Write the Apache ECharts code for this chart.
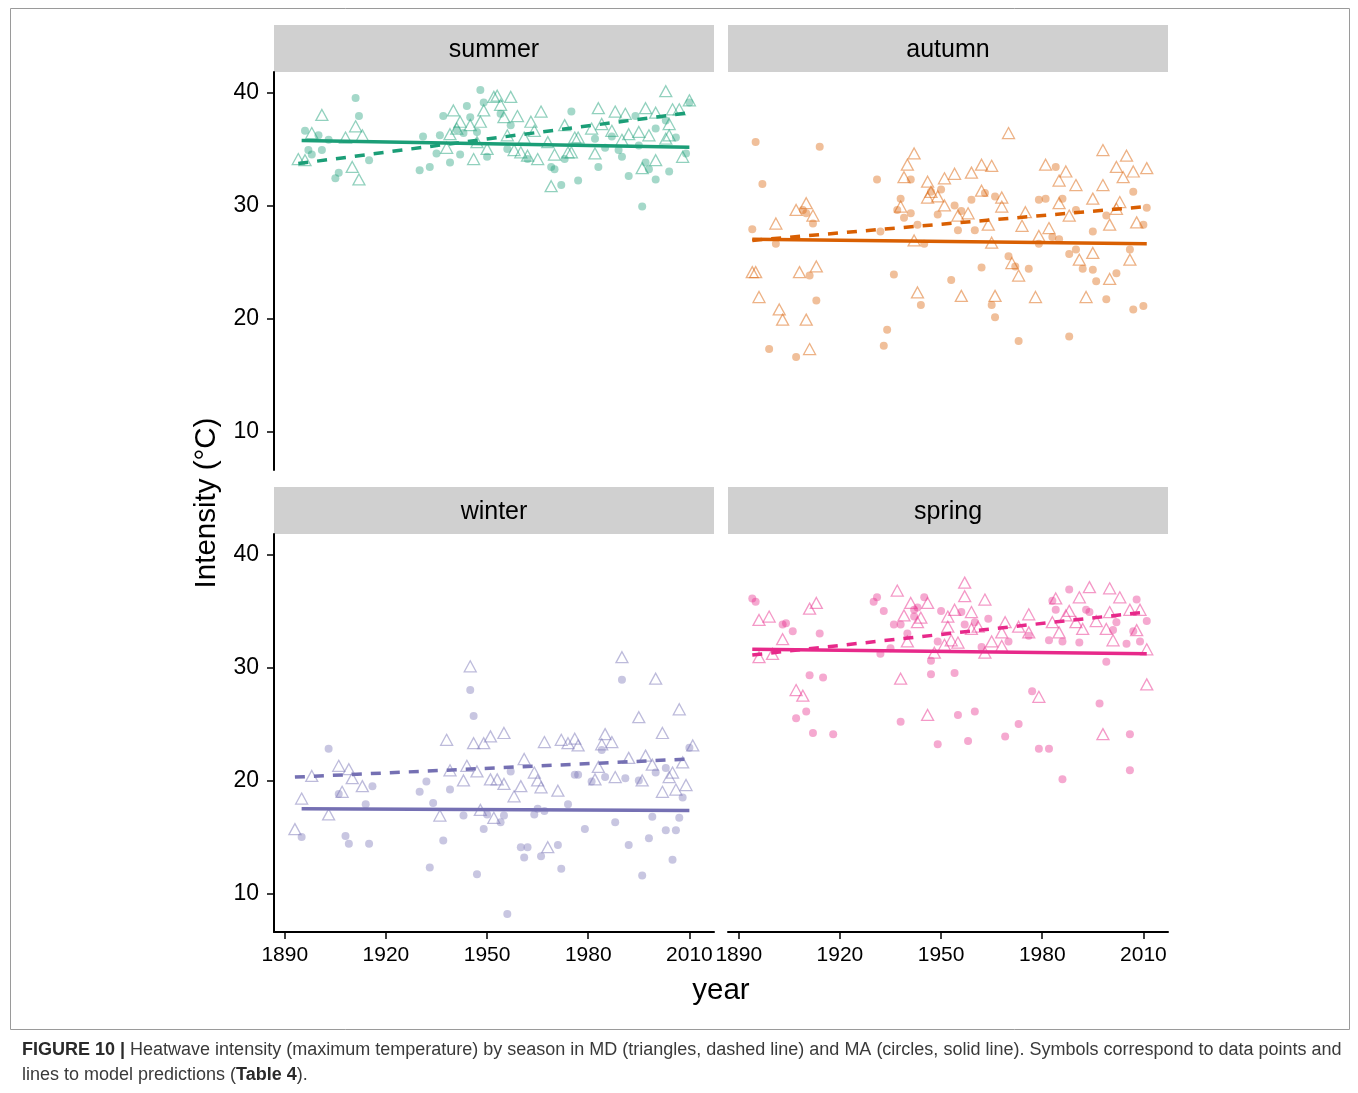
<!DOCTYPE html>
<html>
<head>
<meta charset="utf-8">
<script src="https://cdn.jsdelivr.net/npm/echarts@6/dist/echarts.min.js"></script>
<style>
  html, body { margin: 0; padding: 0; background: #fff; }
  #chart { width: 1358px; height: 1093px; }
</style>
</head>
<body>
<div id="chart"></div>
<script>
// Heatwave intensity by season: MA (circles + solid fit) and MD (triangles + dashed fit)
const seasons = ['summer', 'autumn', 'winter', 'spring'];
const seasonColors = ['#1b9e77', '#d95f02', '#7570b3', '#e7298a'];
const xTicks = [1890, 1920, 1950, 1980, 2010];
const yTicks = [10, 20, 30, 40];

const summerMA = [[1896,36.6],[1911,39.5],[1912,37.9],[1900,36.2],[1897,34.9],[1898,34.5],[1901,34.9],[1903,35.8],[1906,32.9],[1905,32.4],[1915,34.0],[1931,36.1],[1930,33.1],[1933,33.4],[1936,36.2],[1937,37.9],[1935,34.6],[1939,33.8],[1942,34.5],[1944,38.8],[1945,37.8],[1948,40.2],[1949,39.1],[1947,36.5],[1950,34.3],[1941,36.7],[1943,36.4],[1954,38.1],[1957,37.1],[1956,35.0],[1962,34.1],[1969,33.4],[1970,33.2],[1972,31.8],[1977,32.2],[1973,34.1],[1975,38.3],[1982,35.9],[1983,33.4],[1985,35.1],[1989,34.9],[1990,34.3],[1987,36.1],[1994,37.9],[1992,32.6],[1996,29.9],[1997,33.8],[1998,33.2],[2000,32.3],[2004,33.0],[2006,36.0],[2009,34.6],[2000,36.8],[2003,37.5],[2010,39.1],[1995,35.3]];
const summerMD = [[1901,38.0],[1894,34.1],[1896,34.0],[1898,36.4],[1911,37.0],[1908,36.0],[1913,36.2],[1910,33.4],[1912,32.3],[1940,38.4],[1942,37.4],[1938,35.1],[1939,36.3],[1941,36.8],[1945,37.1],[1948,37.4],[1946,34.1],[1947,35.6],[1950,35.0],[1949,38.4],[1952,39.6],[1953,39.7],[1957,39.6],[1954,38.9],[1955,37.8],[1959,37.9],[1963,37.4],[1966,38.3],[1964,36.6],[1956,36.2],[1961,36.0],[1968,35.6],[1958,34.9],[1960,34.7],[1962,34.4],[1965,34.1],[1970,34.5],[1973,37.1],[1976,36.0],[1977,36.0],[1974,34.7],[1975,34.7],[1969,31.7],[1983,38.6],[1988,38.3],[1991,38.1],[1984,37.2],[1987,36.6],[1981,36.8],[1982,34.6],[1990,35.8],[1995,36.5],[1998,36.2],[1992,36.3],[1997,38.6],[2000,38.2],[2003,40.1],[2005,38.5],[2007,38.5],[2010,39.3],[2004,37.2],[2004,36.2],[2000,34.0],[1996,33.3],[2008,34.3],[2003,35.9]];
const summerFitMA = [[1895,35.75],[2010,35.15]];
const summerFitMD = [[1894,33.7],[2010,38.2]];

const autumnMA = [[1895,35.6],[1914,35.2],[1897,31.9],[1894,27.9],[1901,26.6],[1909,29.6],[1910,29.3],[1912,28.4],[1911,23.8],[1913,21.6],[1899,17.3],[1907,16.6],[1931,32.3],[1936,23.9],[1934,19.0],[1933,17.6],[1932,27.7],[1938,30.6],[1937,29.6],[1939,28.9],[1941,29.3],[1941,32.3],[1943,28.3],[1945,26.6],[1944,21.2],[1947,31.2],[1950,31.4],[1949,29.2],[1984,33.4],[1959,30.5],[1963,31.1],[1966,30.8],[1954,30.0],[1956,29.5],[1955,27.8],[1960,27.8],[1979,30.5],[1981,30.6],[1986,30.6],[1990,29.6],[1999,29.1],[2007,31.2],[2011,29.8],[2010,28.3],[1983,27.2],[1985,27.0],[1979,26.6],[1995,27.7],[1970,25.5],[1972,24.6],[1976,24.4],[1962,24.5],[1953,23.4],[1988,25.7],[1990,26.1],[1992,24.4],[1995,24.3],[1996,23.3],[2002,24.0],[2006,26.1],[1965,21.2],[1966,20.1],[1973,18.0],[1988,18.4],[1999,21.7],[2007,20.8],[2010,21.1]];
const autumnMD = [[1901,28.4],[1907,29.6],[1910,30.2],[1912,29.1],[1894,24.1],[1895,24.1],[1896,21.9],[1908,24.1],[1913,24.6],[1902,20.8],[1903,19.9],[1910,19.9],[1911,17.3],[1942,34.6],[1940,33.6],[1939,32.5],[1938,29.9],[1942,26.9],[1943,22.3],[1946,32.1],[1947,31.2],[1946,30.7],[1949,30.8],[1951,32.4],[1951,30.0],[1970,36.4],[1954,32.8],[1959,32.9],[1962,33.6],[1965,33.5],[1962,31.3],[1968,30.7],[1968,29.9],[1958,29.3],[1955,29.1],[1964,28.3],[1965,26.7],[1975,29.4],[1974,28.2],[1971,24.9],[1973,23.8],[1956,22.0],[1966,22.0],[1978,21.9],[1981,33.6],[1987,33.0],[1985,32.2],[1990,31.8],[1985,30.2],[1982,28.0],[1979,27.3],[1988,29.1],[1995,30.6],[1998,31.8],[1998,34.9],[2002,33.4],[2005,34.4],[2007,33.0],[2011,33.3],[2004,32.5],[2003,30.3],[2002,29.7],[2000,28.3],[2008,28.5],[1995,25.8],[1991,25.2],[2006,25.2],[2000,23.5],[1993,21.9]];
const autumnFitMA = [[1894,27.0],[2011,26.6]];
const autumnFitMD = [[1894,26.9],[2011,29.9]];

const winterMA = [[1945,28.0],[1946,25.7],[1903,22.8],[1906,18.8],[1916,19.5],[1914,17.9],[1895,15.0],[1908,15.1],[1909,14.4],[1915,14.4],[1932,19.9],[1930,19.0],[1934,18.0],[1939,19.2],[1943,16.9],[1937,14.7],[1933,12.3],[1947,11.7],[1949,15.7],[1950,17.0],[1990,28.9],[1984,22.7],[2010,22.9],[1957,20.8],[1976,20.5],[1977,20.5],[1985,20.3],[1991,20.2],[1995,20.0],[1981,19.9],[2003,21.1],[2000,20.7],[2008,18.5],[1974,17.9],[1965,17.5],[1967,17.3],[1964,17.0],[1955,16.9],[1954,16.3],[1999,16.8],[2007,16.7],[1988,16.3],[1979,15.7],[2003,15.6],[2006,15.6],[1998,14.9],[1992,14.3],[1960,14.1],[1962,14.1],[1961,13.2],[1966,13.3],[1971,14.3],[1972,12.2],[2005,13.0],[1996,11.6],[1956,8.2]];
const winterMD = [[1945,30.1],[1938,23.6],[1946,23.3],[1949,23.3],[1951,23.9],[1944,21.3],[1947,20.8],[1939,20.9],[1943,20.0],[1951,20.1],[1906,21.3],[1909,21.0],[1910,20.2],[1898,20.4],[1895,18.4],[1913,19.5],[1907,19.0],[1903,17.0],[1893,15.7],[1936,16.9],[1948,17.4],[1952,16.7],[1990,30.9],[2000,29.0],[2007,26.3],[1995,25.6],[2002,24.2],[1955,24.2],[1967,23.4],[1972,23.6],[1974,23.3],[1976,23.7],[1977,23.1],[1985,24.1],[1984,23.2],[1987,23.4],[1961,21.9],[1964,20.7],[1965,20.0],[1966,19.4],[1953,20.1],[1955,19.7],[1960,19.5],[1958,18.6],[1971,19.1],[1983,21.2],[1982,20.1],[1988,20.3],[1992,22.0],[1996,20.0],[1997,22.2],[1999,21.4],[2005,20.7],[2004,20.3],[2002,19.0],[2006,19.2],[2009,19.6],[2011,23.1],[2008,21.6],[1968,14.1]];
const winterFitMA = [[1895,17.5],[2010,17.35]];
const winterFitMD = [[1893,20.3],[2010,21.9]];

const springMA = [[1894,36.1],[1895,35.8],[1903,33.8],[1904,33.9],[1906,33.2],[1914,33.0],[1911,29.3],[1915,29.1],[1910,26.1],[1907,25.5],[1912,24.2],[1918,24.1],[1930,35.8],[1931,36.2],[1933,35.0],[1936,33.8],[1938,33.8],[1940,33.0],[1935,31.7],[1932,31.2],[1942,35.1],[1943,35.3],[1942,34.5],[1945,36.2],[1950,35.0],[1949,32.3],[1947,30.6],[1947,29.4],[1938,25.2],[1949,23.2],[1988,36.9],[2008,36.0],[1983,35.9],[1956,34.9],[1964,34.3],[1957,33.8],[1960,34.0],[1984,35.1],[1993,35.1],[1994,34.9],[2002,34.0],[2001,33.3],[2007,33.2],[2011,34.1],[2009,32.3],[2005,32.1],[1991,32.2],[1986,32.3],[1982,32.4],[1970,32.3],[1976,32.8],[1962,31.8],[1999,30.5],[1954,29.5],[1977,27.9],[1997,26.8],[1955,25.8],[1960,26.1],[1973,25.0],[1969,23.9],[1958,23.5],[2006,24.1],[1979,22.8],[1982,22.8],[1986,20.1],[2006,20.9]];
const springMD = [[1896,34.2],[1899,34.5],[1903,32.5],[1896,30.9],[1900,31.2],[1911,35.2],[1913,35.7],[1907,28.0],[1909,27.5],[1937,36.8],[1941,35.7],[1946,35.7],[1939,34.6],[1943,34.0],[1944,34.4],[1940,32.3],[1948,31.3],[1951,32.0],[1952,33.6],[1952,34.5],[1938,29.0],[1946,25.8],[1957,37.5],[1957,36.3],[1963,36.0],[1954,35.1],[1959,34.9],[1959,33.4],[1961,33.6],[1955,32.2],[1953,32.4],[1965,32.3],[1968,33.1],[1969,34.0],[1973,33.6],[1968,31.9],[1963,31.3],[1976,34.7],[1976,33.1],[1979,27.4],[1983,34.0],[1984,36.1],[1985,33.1],[1988,35.0],[1991,36.2],[1990,34.0],[1992,33.4],[1987,34.6],[1994,37.1],[2000,37.0],[2003,36.2],[1996,34.1],[1999,33.4],[2001,32.4],[2000,34.9],[2006,35.1],[2009,35.1],[2008,33.3],[2011,31.6],[2011,28.5],[1998,24.1]];
const springFitMA = [[1894,31.6],[2011,31.2]];
const springFitMD = [[1894,31.1],[2011,34.9]];

const pointsMA = [summerMA, autumnMA, winterMA, springMA];
const pointsMD = [summerMD, autumnMD, winterMD, springMD];
const fitsMA = [summerFitMA, autumnFitMA, winterFitMA, springFitMA];
const fitsMD = [summerFitMD, autumnFitMD, winterFitMD, springFitMD];

const FONT = '"Liberation Sans", Arial, Helvetica, sans-serif';

// panel boxes: [left, top]; every panel is 440 x 398 with a 47px strip above
const panelW = 440, panelH = 398, stripH = 47;
const panelPos = [[274, 72], [728, 72], [274, 534], [728, 534]];

function rgba(hex, a) {
  const n = parseInt(hex.slice(1), 16);
  return `rgba(${(n >> 16) & 255},${(n >> 8) & 255},${n & 255},${a})`;
}

const grids = [], xAxes = [], yAxes = [], series = [], graphics = [];

panelPos.forEach(([left, top], i) => {
  const bottomRow = i >= 2, leftCol = i % 2 === 0;
  grids.push({ left, top, width: panelW, height: panelH, containLabel: false });
  xAxes.push({
    type: 'value', gridIndex: i, min: 1886.8, max: 2017.3,
    splitLine: { show: false },
    axisLine: { show: bottomRow, onZero: false, lineStyle: { color: '#000', width: 2 } },
    axisTick: { show: bottomRow, length: 7, lineStyle: { color: '#000', width: 1.5 }, customValues: xTicks },
    axisLabel: {
      show: bottomRow, color: '#000', fontSize: 21, fontFamily: FONT, margin: 13,
      customValues: xTicks, formatter: v => String(v)
    }
  });
  yAxes.push({
    type: 'value', gridIndex: i, min: 6.6, max: 41.8,
    splitLine: { show: false },
    axisLine: { show: leftCol, onZero: false, lineStyle: { color: '#000', width: 2 } },
    axisTick: { show: leftCol, length: 7, lineStyle: { color: '#000', width: 1.5 }, customValues: yTicks },
    axisLabel: {
      show: leftCol, color: '#000', fontSize: 23, fontFamily: FONT, margin: 15,
      customValues: yTicks, formatter: v => String(v)
    }
  });

  const c = seasonColors[i];
  series.push({
    type: 'scatter', xAxisIndex: i, yAxisIndex: i, symbol: 'circle', symbolSize: 8,
    itemStyle: { color: rgba(c, 0.5) }, data: pointsMA[i], z: 2, silent: true
  });
  series.push({
    type: 'scatter', xAxisIndex: i, yAxisIndex: i, symbol: 'triangle', symbolSize: [12, 11],
    itemStyle: { color: 'rgba(0,0,0,0)', borderColor: rgba(c, 0.6), borderWidth: 1.3 },
    data: pointsMD[i], z: 2, silent: true
  });
  series.push({
    type: 'line', xAxisIndex: i, yAxisIndex: i, showSymbol: false, symbol: 'none',
    lineStyle: { color: c, width: 3.5, type: 'solid', cap: 'butt' }, data: fitsMA[i], z: 3, silent: true
  });
  series.push({
    type: 'line', xAxisIndex: i, yAxisIndex: i, showSymbol: false, symbol: 'none',
    lineStyle: { color: c, width: 3.5, type: [10, 9], cap: 'butt' }, data: fitsMD[i], z: 3, silent: true
  });

  // facet strip
  graphics.push({
    type: 'rect', shape: { x: left, y: top - stripH, width: panelW, height: stripH },
    style: { fill: '#d0d0d0' }, silent: true
  });
  graphics.push({
    type: 'text', x: left + panelW / 2, y: top - stripH / 2 + 2,
    style: { text: seasons[i], fontSize: 25, fontFamily: FONT, fill: '#000', align: 'center', verticalAlign: 'middle' },
    silent: true
  });
});

// outer figure frame
graphics.push({
  type: 'rect', shape: { x: 10.5, y: 8.5, width: 1339, height: 1021 },
  style: { fill: 'none', stroke: '#9a9a9a', lineWidth: 1 }, silent: true
});
// axis titles
graphics.push({
  type: 'text', x: 207, y: 503, rotation: Math.PI / 2,
  style: { text: 'Intensity (°C)', fontSize: 29.5, fontFamily: FONT, fill: '#000', align: 'center', verticalAlign: 'middle' },
  silent: true
});
graphics.push({
  type: 'text', x: 721, y: 991,
  style: { text: 'year', fontSize: 29.5, fontFamily: FONT, fill: '#000', align: 'center', verticalAlign: 'middle' },
  silent: true
});
// caption
graphics.push({
  type: 'text', x: 22, y: 1050,
  style: {
    text: '{b|FIGURE 10 |} Heatwave intensity (maximum temperature) by season in MD (triangles, dashed line) and MA (circles, solid line). Symbols correspond to data points and',
    fontSize: 18, fontFamily: FONT, fill: '#3a3a3a', verticalAlign: 'middle',
    rich: { b: { fontWeight: 'bold', fill: '#2a2a2a', fontSize: 18, fontFamily: FONT } }
  },
  silent: true
});
graphics.push({
  type: 'text', x: 22, y: 1075,
  style: {
    text: 'lines to model predictions ({t|Table 4}).',
    fontSize: 18, fontFamily: FONT, fill: '#3a3a3a', verticalAlign: 'middle',
    rich: { t: { fontWeight: 'bold', fill: '#2a2a2a', fontSize: 18, fontFamily: FONT } }
  },
  silent: true
});

const chart = echarts.init(document.getElementById('chart'), null, { renderer: 'canvas' });
chart.setOption({
  animation: false,
  backgroundColor: '#fff',
  grid: grids,
  xAxis: xAxes,
  yAxis: yAxes,
  series,
  graphic: graphics
});
</script>
</body>
</html>
